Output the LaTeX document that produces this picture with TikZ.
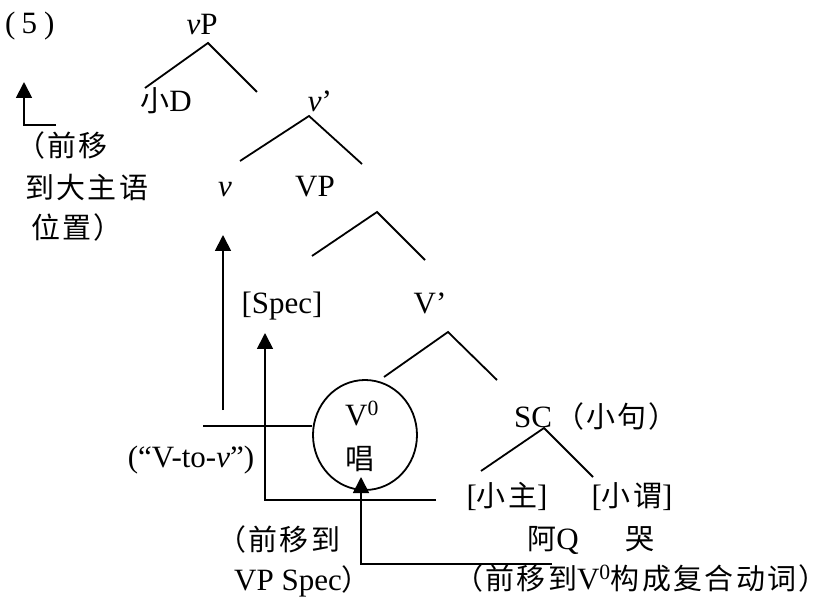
\documentclass[tikz,border=0pt]{standalone}
\usepackage{fontspec}
\setmainfont{Liberation Serif}
\newfontfamily\cjk[LetterSpace=8,Scale=0.935]{Noto Sans CJK SC}
\usetikzlibrary{arrows.meta,shapes.geometric}
\begin{document}
\begin{tikzpicture}[x=1pt,y=-1pt,
  lbl/.style={inner sep=0pt,anchor=base,font=\fontsize{31}{36}\selectfont},
  lblw/.style={lbl,anchor=base west},
  br/.style={line width=1.8pt},
  mv/.style={line width=1.8pt,-{Triangle[length=16pt,width=16pt]}}]
\useasboundingbox (0,0) rectangle (820,604);
% labels
\node[lblw] (n5) at (5,34) {(\hspace{6pt}5\hspace{7pt})};
\node[lbl] (vP) at (202,35) {\textit{v}P};
\node[lbl] (D) at (166,112) {{\cjk 小}D};
\node[lbl] (vbar) at (320,112) {\textit{v}’};
\node[lbl] (v) at (225,197) {\textit{v}};
\node[lbl] (VP) at (315,197) {VP};
\node[lbl] (spec) at (282,314) {[Spec]};
\node[lbl] (Vbar) at (430,314) {V’};
\node[draw,ellipse,line width=1.8pt,minimum width=104pt,minimum height=110pt,inner sep=0pt] (circ) at (365,435) {};
\node[lbl] (V0) at (362,425) {V\textsuperscript{0}};
\node[lbl] (chang) at (360,469) {\cjk 唱};
\node[lbl] (vtov) at (191,467) {(“V-to-\textit{v}”)};
\node[lblw] (SC) at (514,427) {SC\hspace{3pt}{\cjk （小\hspace{2pt}句\hspace{2pt}）}};
\node[lbl] (subj) at (507,506) {[{\cjk 小主}]};
\node[lbl] (pred) at (632,506) {[{\cjk 小谓}]};
\node[lbl] (AQ) at (553,549) {{\cjk 阿}Q};
\node[lbl] (ku) at (640,549) {\cjk 哭};
\node[lblw] (mva) at (217,550) {\cjk （前移到};
\node[lblw] (mvb) at (234,590) {VP Spec{\cjk ）}};
\node[lblw] (mvc) at (454,589) {{\cjk （前移到}V\textsuperscript{0}{\cjk 构成复合动词）}\kern-20pt};
\node[lblw] (l1) at (16,157) {\cjk （前移};
\node[lblw] (l2) at (25,199) {\cjk 到大主语};
\node[lblw] (l3) at (31,239) {\cjk 位置）};
% branch points
\coordinate (vPa) at (208,43);  \coordinate (vPl) at (145,88);  \coordinate (vPr) at (257,92);
\coordinate (vba) at (309,116); \coordinate (vbl) at (240,161); \coordinate (vbr) at (362,164);
\coordinate (VPa) at (377,212); \coordinate (VPl) at (312,256); \coordinate (VPr) at (425,260);
\coordinate (Vba) at (448,332); \coordinate (Vbl) at (384,377); \coordinate (Vbr) at (497,380);
\coordinate (SCa) at (544,428); \coordinate (SCl) at (481,471); \coordinate (SCr) at (593,477);
\draw[br] (vPl) -- (vPa) -- (vPr);
\draw[br] (vbl) -- (vba) -- (vbr);
\draw[br] (VPl) -- (VPa) -- (VPr);
\draw[br] (Vbl) -- (Vba) -- (Vbr);
\draw[br] (SCl) -- (SCa) -- (SCr);
% movement arrows
\coordinate (a0s) at (56,125); \coordinate (a0k) at (24,125); \coordinate (a0t) at (24,82);
\draw[mv] (a0s) -- (a0k) -- (a0t);
\coordinate (a1s) at (223,410); \coordinate (a1t) at (223,235);
\draw[mv] (a1s) -- (a1t);
\coordinate (h1) at (203,426);
\draw[br] (h1) -- (circ.west |- h1);
\coordinate (a2s) at (436,500); \coordinate (a2k) at (265,500); \coordinate (a2t) at (265,333);
\draw[mv] (a2s) -- (a2k) -- (a2t);
\coordinate (a3s) at (552,564); \coordinate (a3k) at (361,564); \coordinate (a3t) at (361,477);
\draw[mv] (a3s) -- (a3k) -- (a3t);
\end{tikzpicture}
\end{document}
